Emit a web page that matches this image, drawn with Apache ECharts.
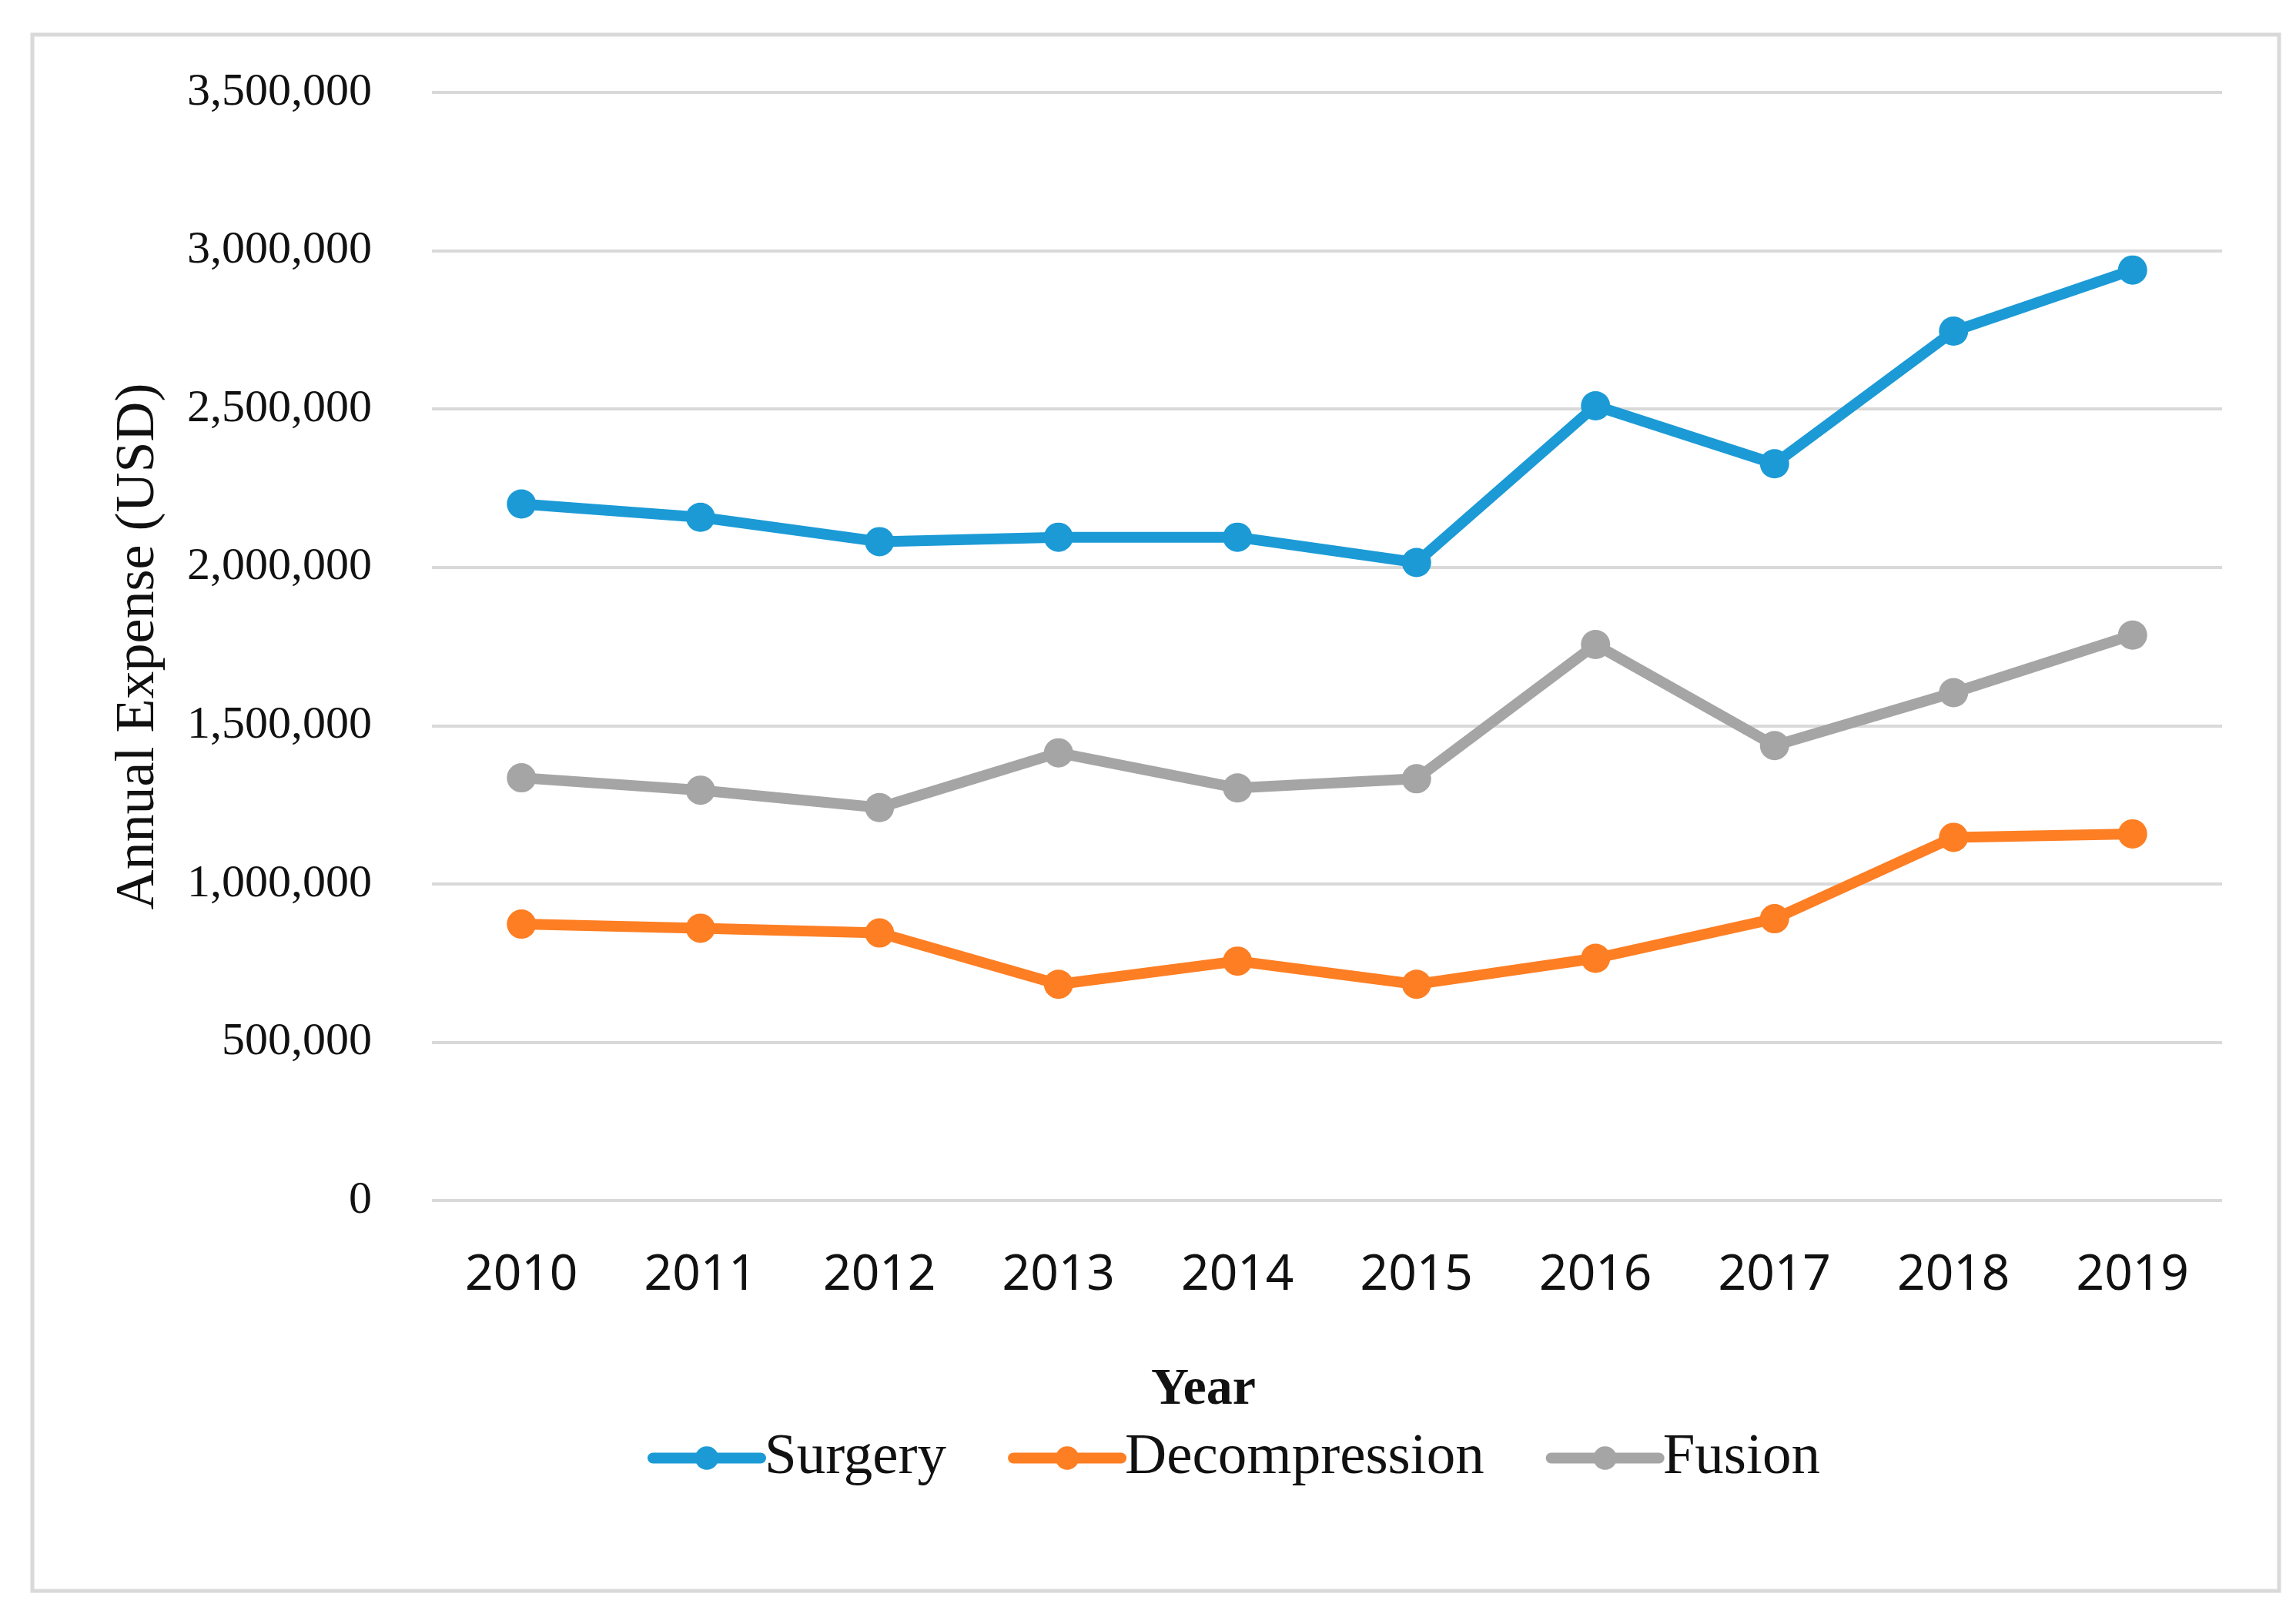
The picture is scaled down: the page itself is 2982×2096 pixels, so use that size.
<!DOCTYPE html>
<html>
<head>
<meta charset="utf-8">
<script src="https://cdn.jsdelivr.net/npm/echarts@6/dist/echarts.min.js"></script>
<style>
html,body{margin:0;padding:0;background:#fff;}
#chart{width:2982px;height:2096px;}
</style>
</head>
<body>
<div id="chart"></div>
<script>
var years = ['2010','2011','2012','2013','2014','2015','2016','2017','2018','2019'];
var surgery = [2200000, 2158000, 2081000, 2095000, 2095000, 2015000, 2510000, 2327000, 2746000, 2939000];
var decompression = [873000, 860000, 845000, 683000, 756000, 683000, 765000, 890000, 1147000, 1158000];
var fusion = [1335000, 1296000, 1241000, 1414000, 1303000, 1332000, 1756000, 1437000, 1604000, 1786000];
var seriesNames = ['Surgery', 'Decompression', 'Fusion'];
var yTicks = {min: 0, max: 3500000, interval: 500000};

var colors = ['#1b9ad6', '#fd7e23', '#a5a5a5'];
var serif = '"Liberation Serif", "DejaVu Serif", serif';

function mkSeries(name, data, color) {
  return {
    name: name, type: 'line', data: data,
    symbol: 'circle', symbolSize: 38,
    lineStyle: {width: 14, color: color, cap: 'round', join: 'round'},
    itemStyle: {color: color},
    emphasis: {disabled: true}
  };
}

var chart = echarts.init(document.getElementById('chart'), null, {renderer: 'canvas'});
chart.setOption({
  animation: false,
  backgroundColor: '#fff',
  color: colors,
  grid: {left: 561, right: 96, top: 120, bottom: 537, containLabel: false},
  xAxis: {
    type: 'category', data: years, boundaryGap: true,
    axisLine: {show: false}, axisTick: {show: false},
    axisLabel: {color: '#111', fontFamily: '"Noto Sans", sans-serif', fontSize: 64, margin: 66}
  },
  yAxis: {
    type: 'value', min: yTicks.min, max: yTicks.max, interval: yTicks.interval,
    axisLine: {show: false}, axisTick: {show: false},
    splitLine: {lineStyle: {color: '#d9d9d9', width: 4}},
    axisLabel: {
      color: '#111', fontFamily: serif, fontSize: 60, margin: 78,
      formatter: function (v) { return v.toLocaleString('en-US'); }
    },
    name: 'Annual Expense (USD)', nameLocation: 'middle', nameGap: 345,
    nameTextStyle: {color: '#111', fontFamily: serif, fontSize: 72}
  },
  legend: {
    data: seriesNames, left: 836, top: 1851, orient: 'horizontal',
    itemWidth: 140, itemHeight: 38, itemGap: 80,
    lineStyle: {width: 14, cap: 'round'},
    textStyle: {color: '#111', fontFamily: serif, fontSize: 75},
    selectedMode: false
  },
  graphic: [
    {type: 'rect', shape: {x: 42, y: 45, width: 2918, height: 2021},
     style: {fill: null, stroke: '#d9d9d9', lineWidth: 5}, silent: true, z: -1},
    {type: 'text', x: 1563, y: 1805,
     style: {text: 'Year', fill: '#111', font: 'bold 68px ' + serif, align: 'center', verticalAlign: 'middle'}}
  ],
  series: [
    mkSeries(seriesNames[0], surgery, colors[0]),
    mkSeries(seriesNames[1], decompression, colors[1]),
    mkSeries(seriesNames[2], fusion, colors[2])
  ]
});
</script>
</body>
</html>
